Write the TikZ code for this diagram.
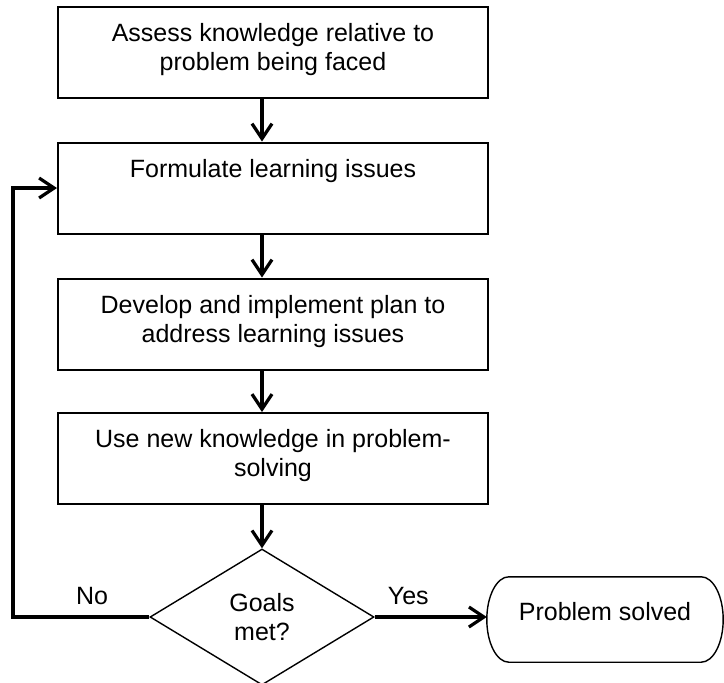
\documentclass[tikz,border=0pt]{standalone}
\usepackage{fontspec}
\setmainfont{Liberation Sans}
\usetikzlibrary{arrows.meta,shapes.geometric}
\newcommand\boxtxt[1]{\parbox[c][91pt][t]{425pt}{\fontsize{25}{29}\selectfont\centering\rule{0pt}{34.5pt}#1\par}}
\tikzset{
  every node/.style={font=\fontsize{25}{29}\selectfont},
  stepbox/.style={draw, line width=2pt, inner sep=0pt, minimum width=430pt, minimum height=91pt},
  arr/.style={line width=3.2pt, -{Straight Barb[length=15pt, width=20pt]}},
  decision/.style={diamond, draw, line width=1.4pt, inner sep=0pt, minimum width=224pt, minimum height=136pt, shape aspect=1.647, align=center},
  endbox/.style={rectangle, inner sep=0pt, minimum width=236pt, minimum height=85pt},
  outl/.style={line width=1.4pt},
  lbl/.style={above=11pt, inner sep=0pt}
}
\begin{document}
\begin{tikzpicture}[x=1pt, y=-1pt]
\useasboundingbox (0,0) rectangle (724,683);
\node[stepbox] (b1) at (273,52.5) {\boxtxt{Assess knowledge relative to\\problem being faced}};
\node[stepbox] (b2) at (273,188) {\boxtxt{Formulate learning issues}};
\node[stepbox] (b3) at (273,324) {\boxtxt{Develop and implement plan to\\address learning issues}};
\node[stepbox] (b4) at (273,458.5) {\boxtxt{Use new knowledge in problem-\\solving}};
\node[decision] (d) at (262,617) {Goals\\met?};
\node[endbox] (ps) at (605,619.5) {};
\node (pst) at ([yshift=7.5pt]ps.center) {Problem solved};
\draw[outl] ([xshift=22pt]ps.north west) -- ([xshift=-22pt]ps.north east)
  .. controls +(12.1,0) and +(0,-23.5) .. (ps.east)
  .. controls +(0,23.5) and +(12.1,0) .. ([xshift=-22pt]ps.south east)
  -- ([xshift=22pt]ps.south west)
  .. controls +(-12.1,0) and +(0,23.5) .. (ps.west)
  .. controls +(0,-23.5) and +(-12.1,0) .. ([xshift=22pt]ps.north west) -- cycle;
\coordinate (ax) at (262,0);
\coordinate (lc) at (13,617);
\draw[arr] (b1.south -| ax) -- (b2.north -| ax);
\draw[arr] (b2.south -| ax) -- (b3.north -| ax);
\draw[arr] (b3.south -| ax) -- (b4.north -| ax);
\draw[arr] (b4.south -| ax) -- (d.north);
\draw[arr] (d.west) -- node[lbl, pos=0.42] (no) {No} (lc) |- (b2.west);
\draw[arr] (d.east) -- node[lbl, pos=0.3] (yes) {Yes} (d.east -| ps.west);
\end{tikzpicture}
\end{document}
